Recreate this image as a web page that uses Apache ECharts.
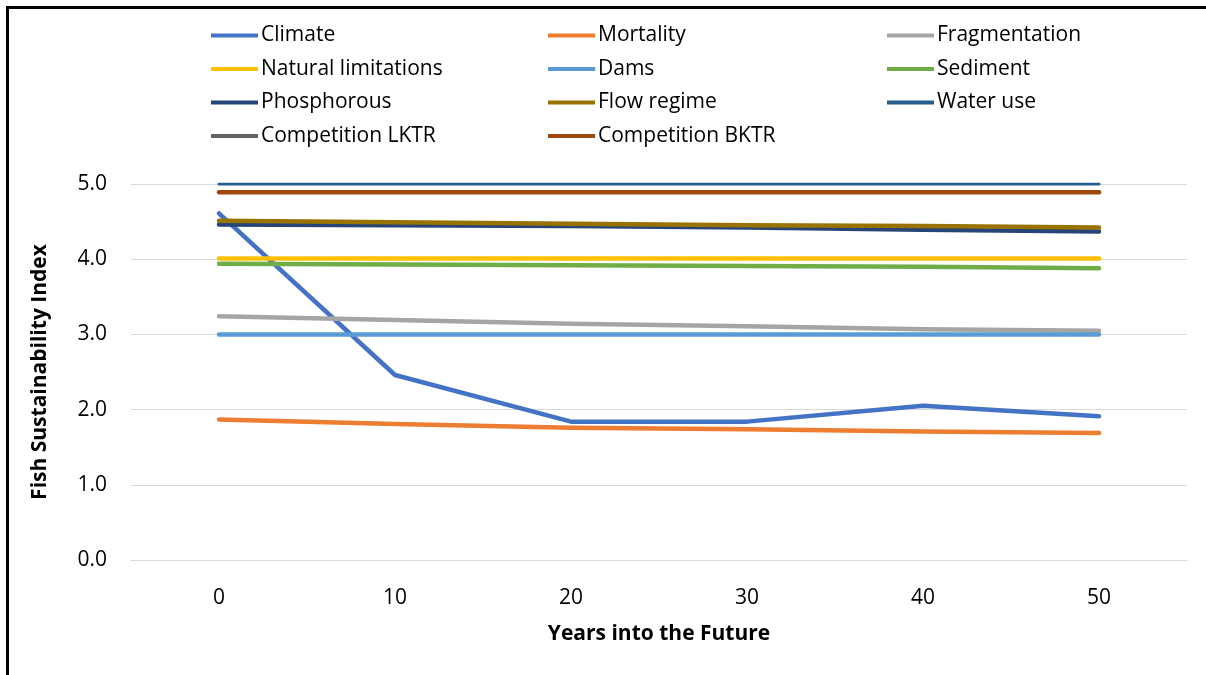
<!DOCTYPE html>
<html lang="en">
<head>
    <meta charset="UTF-8">
    <title>Fish Sustainability Index</title>
    <script src="https://cdn.jsdelivr.net/npm/echarts@6/dist/echarts.min.js"></script>
    <style>
        html, body { margin: 0; padding: 0; background: #fff; overflow: hidden; width: 1206px; height: 675px; }
        #frame {
            position: absolute; left: 6px; top: 6px; width: 1300px; height: 800px;
            border-left: 3px solid #000; border-top: 3px solid #000;
        }
        #lineChart { position: absolute; left: 0; top: 0; width: 1206px; height: 675px; }
    </style>
</head>
<body>
<div id="frame"></div>
<div id="lineChart"></div>

<script>
    // data
    let years = ['0', '10', '20', '30', '40', '50'];
    let yTicks = [0, 1, 2, 3, 4, 5];

    let climate = [4.61, 2.46, 1.84, 1.84, 2.05, 1.91];
    let mortality = [1.87, 1.81, 1.76, 1.74, 1.71, 1.69];
    let fragmentation = [3.24, 3.19, 3.14, 3.11, 3.07, 3.05];
    let naturalLimitations = [4.01, 4.01, 4.01, 4.01, 4.01, 4.01];
    let dams = [3.0, 3.0, 3.0, 3.0, 3.0, 3.0];
    let sediment = [3.94, 3.93, 3.92, 3.91, 3.90, 3.88];
    let phosphorous = [4.46, 4.45, 4.44, 4.42, 4.39, 4.37];
    let flowRegime = [4.51, 4.49, 4.47, 4.45, 4.44, 4.42];
    let waterUse = [5.0, 5.0, 5.0, 5.0, 5.0, 5.0];
    let competitionLKTR = [null, null, null, null, null, null];
    let competitionBKTR = [4.89, 4.89, 4.89, 4.89, 4.89, 4.89];

    let seriesDefs = [
        ['Climate', climate, '#4472C4', 4.5],
        ['Mortality', mortality, '#ED7D31', 4.5],
        ['Fragmentation', fragmentation, '#A5A5A5', 4.5],
        ['Natural limitations', naturalLimitations, '#FFC000', 4.5],
        ['Dams', dams, '#5B9BD5', 4.5],
        ['Sediment', sediment, '#70AD47', 4.5],
        ['Phosphorous', phosphorous, '#264478', 4.5],
        ['Flow regime', flowRegime, '#997300', 4.5],
        ['Water use', waterUse, '#255E91', 3],
        ['Competition LKTR', competitionLKTR, '#636363', 4.5],
        ['Competition BKTR', competitionBKTR, '#9E480E', 4.5]
    ];

    let font = 'Open Sans';
    let legendBase = {
        orient: 'vertical',
        top: 25,
        itemWidth: 47,
        itemHeight: 4,
        itemGap: 12.5,
        icon: 'rect',
        padding: 0,
        textStyle: { fontFamily: font, fontSize: 21, color: '#000', padding: [0, 0, 0, -2] }
    };

    let chart = echarts.init(document.getElementById('lineChart'));
    let option = {
        animation: false,
        textStyle: { fontFamily: font },
        legend: [
            Object.assign({}, legendBase, { left: 211, data: ['Climate', 'Natural limitations', 'Phosphorous', 'Competition LKTR'] }),
            Object.assign({}, legendBase, { left: 548, data: ['Mortality', 'Dams', 'Flow regime', 'Competition BKTR'] }),
            Object.assign({}, legendBase, { left: 887, data: ['Fragmentation', 'Sediment', 'Water use'] })
        ],
        grid: { left: 131, right: 19, top: 184, bottom: 115 },
        xAxis: {
            type: 'category',
            data: years,
            boundaryGap: true,
            name: 'Years into the Future',
            nameLocation: 'middle',
            nameGap: 64,
            nameTextStyle: { fontFamily: font, fontSize: 21, fontWeight: 'bold', color: '#000' },
            axisLine: { show: true, lineStyle: { color: '#D9D9D9', width: 1 } },
            axisTick: { show: false },
            axisLabel: { margin: 28, fontSize: 21, color: '#000', fontFamily: font }
        },
        yAxis: {
            type: 'value',
            min: yTicks[0],
            max: yTicks[yTicks.length - 1],
            interval: 1,
            name: 'Fish Sustainability Index',
            nameLocation: 'middle',
            nameGap: 80,
            nameTextStyle: { fontFamily: font, fontSize: 21, fontWeight: 'bold', color: '#000' },
            axisLine: { show: false },
            axisTick: { show: false },
            axisLabel: {
                margin: 24, fontSize: 21, color: '#000', fontFamily: font,
                formatter: function (v) { return v.toFixed(1); }
            },
            splitLine: { lineStyle: { color: '#D9D9D9', width: 1 } }
        },
        series: seriesDefs.map(function (d) {
            return {
                name: d[0],
                type: 'line',
                data: d[1],
                color: d[2],
                symbol: 'none',
                lineStyle: { width: d[3], color: d[2], cap: 'round', join: 'round' }
            };
        })
    };
    chart.setOption(option);
</script>
</body>
</html>
